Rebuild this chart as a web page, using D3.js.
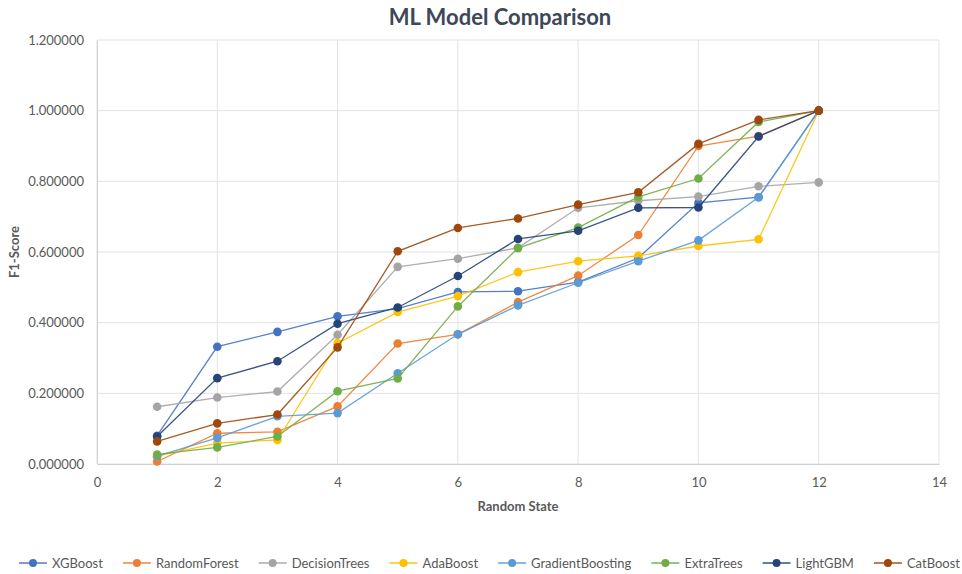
<!DOCTYPE html>
<html>
<head>
<meta charset="utf-8">
<script src="https://cdn.jsdelivr.net/npm/d3@7"></script>
<style>
  html, body { margin: 0; padding: 0; background: #fff; }
  svg { display: block; font-family: Lato, "Open Sans", sans-serif; }
</style>
</head>
<body>
<svg id="chart" width="962" height="574"></svg>
<script>
// Random state used for each run
const randomState = [1, 2, 3, 4, 5, 6, 7, 8, 9, 10, 11, 12];

// F1-score per model, one value per random state
const xgboost          = [0.080, 0.332, 0.374, 0.418, 0.440, 0.487, 0.489, 0.515, 0.583, 0.739, 0.755, 1.000];
const randomForest     = [0.007, 0.087, 0.091, 0.163, 0.341, 0.367, 0.458, 0.533, 0.648, 0.900, 0.928, 1.000];
const decisionTrees    = [0.162, 0.188, 0.205, 0.366, 0.558, 0.581, 0.612, 0.725, 0.745, 0.757, 0.786, 0.797];
const adaBoost         = [0.022, 0.059, 0.068, 0.342, 0.430, 0.475, 0.543, 0.574, 0.589, 0.617, 0.636, 1.000];
const gradientBoosting = [0.022, 0.074, 0.135, 0.144, 0.257, 0.367, 0.449, 0.513, 0.574, 0.633, 0.755, 1.000];
const extraTrees       = [0.027, 0.047, 0.078, 0.206, 0.242, 0.446, 0.611, 0.669, 0.756, 0.808, 0.968, 1.000];
const lightGBM         = [0.078, 0.243, 0.291, 0.397, 0.443, 0.532, 0.637, 0.660, 0.725, 0.726, 0.927, 1.000];
const catBoost         = [0.064, 0.115, 0.140, 0.330, 0.602, 0.668, 0.695, 0.734, 0.769, 0.906, 0.974, 1.000];

const modelNames = ["XGBoost", "RandomForest", "DecisionTrees", "AdaBoost",
                    "GradientBoosting", "ExtraTrees", "LightGBM", "CatBoost"];
const modelValues = [xgboost, randomForest, decisionTrees, adaBoost,
                     gradientBoosting, extraTrees, lightGBM, catBoost];
const modelColors = ["#4472C4", "#ED7D31", "#A5A5A5", "#FFC000",
                     "#5B9BD5", "#70AD47", "#264478", "#9E480E"];

const xTicks = [0, 2, 4, 6, 8, 10, 12, 14];
const yTicks = [0, 0.2, 0.4, 0.6, 0.8, 1.0, 1.2];

const svg = d3.select("#chart");
const margin = { left: 97, right: 23, top: 40, bottom: 110 };
const W = 962, H = 574;

const x = d3.scaleLinear().domain([0, 14]).range([margin.left, W - margin.right]);
const y = d3.scaleLinear().domain([0, 1.2]).range([H - margin.bottom, margin.top]);

// Gridlines
const grid = svg.append("g");
grid.selectAll("line.h").data(yTicks).join("line")
  .attr("x1", x(0)).attr("x2", x(14))
  .attr("y1", d => y(d)).attr("y2", d => y(d))
  .attr("stroke", "#e3e3e3").attr("stroke-width", 1);
grid.selectAll("line.v").data(xTicks).join("line")
  .attr("y1", y(0)).attr("y2", y(1.2))
  .attr("x1", d => x(d)).attr("x2", d => x(d))
  .attr("stroke", "#e3e3e3").attr("stroke-width", 1);

// Axes
const xAxis = svg.append("g")
  .attr("transform", `translate(0,${y(0)})`)
  .call(d3.axisBottom(x).tickValues(xTicks).tickSize(0).tickPadding(14).tickFormat(d3.format("d")));
const yAxis = svg.append("g")
  .attr("transform", `translate(${x(0)},0)`)
  .call(d3.axisLeft(y).tickValues(yTicks).tickSize(0).tickPadding(13).tickFormat(d3.format(".6f")));
[xAxis, yAxis].forEach(a => {
  a.select(".domain").attr("stroke", "#d0d0d0");
  a.selectAll("text").attr("fill", "#595959").style("font-size", "13px")
   .style("font-family", "Lato, sans-serif");
});

// Series lines and markers
const line = d3.line().x((d, i) => x(randomState[i])).y(d => y(d));
modelValues.forEach((vals, k) => {
  const g = svg.append("g");
  g.append("path").datum(vals)
    .attr("d", line).attr("fill", "none")
    .attr("stroke", modelColors[k]).attr("stroke-width", 1.3)
    .attr("stroke-opacity", 0.9);
  g.selectAll("circle").data(vals).join("circle")
    .attr("cx", (d, i) => x(randomState[i])).attr("cy", d => y(d))
    .attr("r", 4.3).attr("fill", modelColors[k]);
});

// Title and axis titles
svg.append("text").attr("x", 500).attr("y", 25)
  .attr("text-anchor", "middle").attr("fill", "#3d4756")
  .style("font-size", "22px").style("font-weight", "bold")
  .text("ML Model Comparison");
svg.append("text").attr("x", (x(0) + x(14)) / 2).attr("y", 511)
  .attr("text-anchor", "middle").attr("fill", "#595959")
  .style("font-size", "13px").style("font-weight", "bold")
  .text("Random State");
svg.append("text")
  .attr("transform", `translate(19,${(y(0) + y(1.2)) / 2}) rotate(-90)`)
  .attr("text-anchor", "middle").attr("fill", "#595959")
  .style("font-size", "13px").style("font-weight", "bold")
  .text("F1-Score");

// Legend laid out from measured label widths
const legend = svg.append("g");
const items = modelNames.map((name, k) => {
  const g = legend.append("g");
  g.append("line").attr("x1", 0).attr("x2", 28).attr("y1", 0).attr("y2", 0)
    .attr("stroke", modelColors[k]).attr("stroke-width", 1.4);
  g.append("circle").attr("cx", 14).attr("cy", 0).attr("r", 4).attr("fill", modelColors[k]);
  const t = g.append("text").attr("x", 33).attr("y", 4.5)
    .attr("fill", "#595959").style("font-size", "13px").text(name);
  return { g, w: 33 + t.node().getComputedTextLength() };
});
const legendLeft = 19, legendRight = 960;
const totalW = d3.sum(items, d => d.w);
const gap = (legendRight - legendLeft - totalW) / (items.length - 1);
let cx = legendLeft;
items.forEach(it => {
  it.g.attr("transform", `translate(${cx},563)`);
  cx += it.w + gap;
});
</script>
</body>
</html>
